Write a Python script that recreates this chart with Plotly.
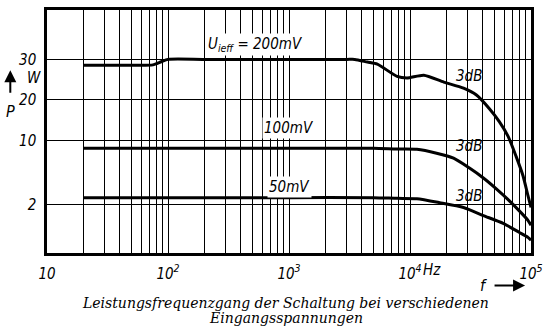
import numpy as np
import plotly.graph_objects as go

# ---------------- data ----------------
# frequency in Hz, output power P in W
f_200 = [20, 50, 75, 88, 100, 200, 1000, 3000, 3500, 4450, 5370, 7820, 9440,
         13000, 19000, 27700, 35400, 45300, 54700, 64700, 75300, 86000, 94400, 100000]
p_200 = [28.3, 28.3, 28.4, 29.3, 30, 30, 30, 30, 30, 29.2, 28.6, 25.3, 24.9,
         25.6, 23.9, 22.5, 21.0, 17.2, 13.8, 10.7, 6.7, 4.1, 2.5, 1.86]

f_100 = [20, 1000, 5000, 7820, 11400, 16600, 22900, 31000, 40400, 51700,
         66000, 79700, 94400, 100000]
p_100 = [8.2, 8.2, 8.2, 8.05, 8.0, 7.25, 6.4, 5.0, 3.9, 2.97,
         2.21, 1.72, 1.35, 1.19]

f_50 = [20, 1000, 5000, 7820, 11400, 17600, 27700, 40400, 58900, 79700, 94400, 100000]
p_50 = [2.38, 2.38, 2.38, 2.34, 2.32, 2.10, 1.86, 1.52, 1.25, 1.0, 0.88, 0.82]

p_ticks = [2, 10, 20, 30]
p_tick_labels = ["2", "10", "20", "30"]

f_decades = [10, 100, 1000, 10000, 100000]
f_decade_labels = ["10", "10<sup>2</sup>", "10<sup>3</sup>", "10<sup>4</sup>", "10<sup>5</sup>"]

# ---------------- non-uniform printed P scale ----------------
_anch_log = np.log10(p_ticks)
_anch_pos = np.array([49.0, 114.0, 155.0, 196.0])
_slope_lo = 93.0    # units per decade below 2 W
_slope_hi = 233.0   # units per decade above 30 W


def p_axis(w):
    lw = np.log10(np.asarray(w, dtype=float))
    pos = np.interp(lw, _anch_log, _anch_pos)
    pos = np.where(lw < _anch_log[0], _anch_pos[0] + (lw - _anch_log[0]) * _slope_lo, pos)
    pos = np.where(lw > _anch_log[-1], _anch_pos[-1] + (lw - _anch_log[-1]) * _slope_hi, pos)
    return pos


# grid lines: 2..9 in every decade plus decades
grid_vals = []
for d in [10, 100, 1000, 10000]:
    for k in range(1, 10):
        grid_vals.append(d * k)
grid_vals.append(100000)
grid_text = []
for v in grid_vals:
    if v in f_decades:
        grid_text.append("<i>" + f_decade_labels[f_decades.index(v)] + "</i>")
    else:
        grid_text.append("")

fig = go.Figure()
for f, p in [(f_200, p_200), (f_100, p_100), (f_50, p_50)]:
    fig.add_trace(go.Scatter(
        x=f, y=p_axis(p), mode="lines",
        line=dict(color="black", width=3, shape="spline", smoothing=0.6),
        showlegend=False, hoverinfo="skip"))

L, R, T, B = 47, 15, 7, 81
W_, H_ = 550, 334
pw, ph = W_ - L - R, H_ - T - B


def px(x):
    return (x - L) / pw


def py(y):
    return (H_ - B - y) / ph


TICKFONT = "Liberation Sans Narrow, DejaVu Sans Condensed, Liberation Sans, sans-serif"
fs = 15

fig.update_layout(
    width=W_, height=H_,
    margin=dict(l=L, r=R, t=T, b=B, pad=0),
    paper_bgcolor="white", plot_bgcolor="white",
    showlegend=False,
    xaxis=dict(type="log", range=[1, 5], tickmode="array", tickvals=grid_vals,
               ticktext=grid_text, showgrid=True, gridcolor="black", gridwidth=1,
               showline=True, mirror=True, linecolor="black", linewidth=2.5,
               ticks="", zeroline=False, ticklabelstandoff=5,
               tickfont=dict(family=TICKFONT, size=fs, color="black")),
    yaxis=dict(range=[0, 246], tickmode="array", tickvals=list(p_axis(p_ticks)),
               ticktext=["<i>" + t + "</i>" for t in p_tick_labels],
               showgrid=True, gridcolor="black", gridwidth=1,
               showline=True, mirror=True, linecolor="black", linewidth=2.5,
               ticks="", zeroline=False, ticklabelstandoff=5,
               tickfont=dict(family=TICKFONT, size=fs, color="black")),
)

ann = []


def add_text(text, x, y, size=fs, family=TICKFONT, bg=None, xanchor="center"):
    d = dict(text=text, x=px(x), y=py(y), xref="paper", yref="paper",
             showarrow=False, xanchor=xanchor, yanchor="middle",
             font=dict(family=family, size=size, color="black"))
    if bg:
        d["bgcolor"] = bg
        d["borderpad"] = 1
    ann.append(d)


add_text("<i>U<sub>ieff</sub> = 200mV</i>", 257, 42, bg="white")
add_text("<i>100mV</i>", 291, 126, bg="white")
add_text("<i>50mV</i>", 292, 186, bg="white")
add_text("<i>3dB</i>", 472, 74)
add_text("<i>3dB</i>", 472, 145)
add_text("<i>3dB</i>", 472, 195)
add_text("<i>W</i>", 34, 76)
add_text("<i>P</i>", 10, 110, size=16)
add_text("<i>Hz</i>", 435, 270)
add_text("<i>f</i>", 487, 286, size=16)

CAP = "DejaVu Serif, Liberation Serif, serif"
add_text("<i>Leistungsfrequenzgang der Schaltung bei verschiedenen</i>", 287, 304, size=14, family=CAP)
add_text("<i>Eingangsspannungen</i>", 288, 319, size=14, family=CAP)

# arrows for P and f
ann.append(dict(x=px(10), y=py(68), xref="paper", yref="paper", text="",
                showarrow=True, ax=0, ay=24, arrowhead=2, arrowsize=1.2,
                arrowwidth=2, arrowcolor="black"))
ann.append(dict(x=px(529), y=py(286), xref="paper", yref="paper", text="",
                showarrow=True, ax=-32, ay=0, arrowhead=2, arrowsize=1.2,
                arrowwidth=2, arrowcolor="black"))

fig.update_layout(annotations=ann)
fig.write_html("out.html")
